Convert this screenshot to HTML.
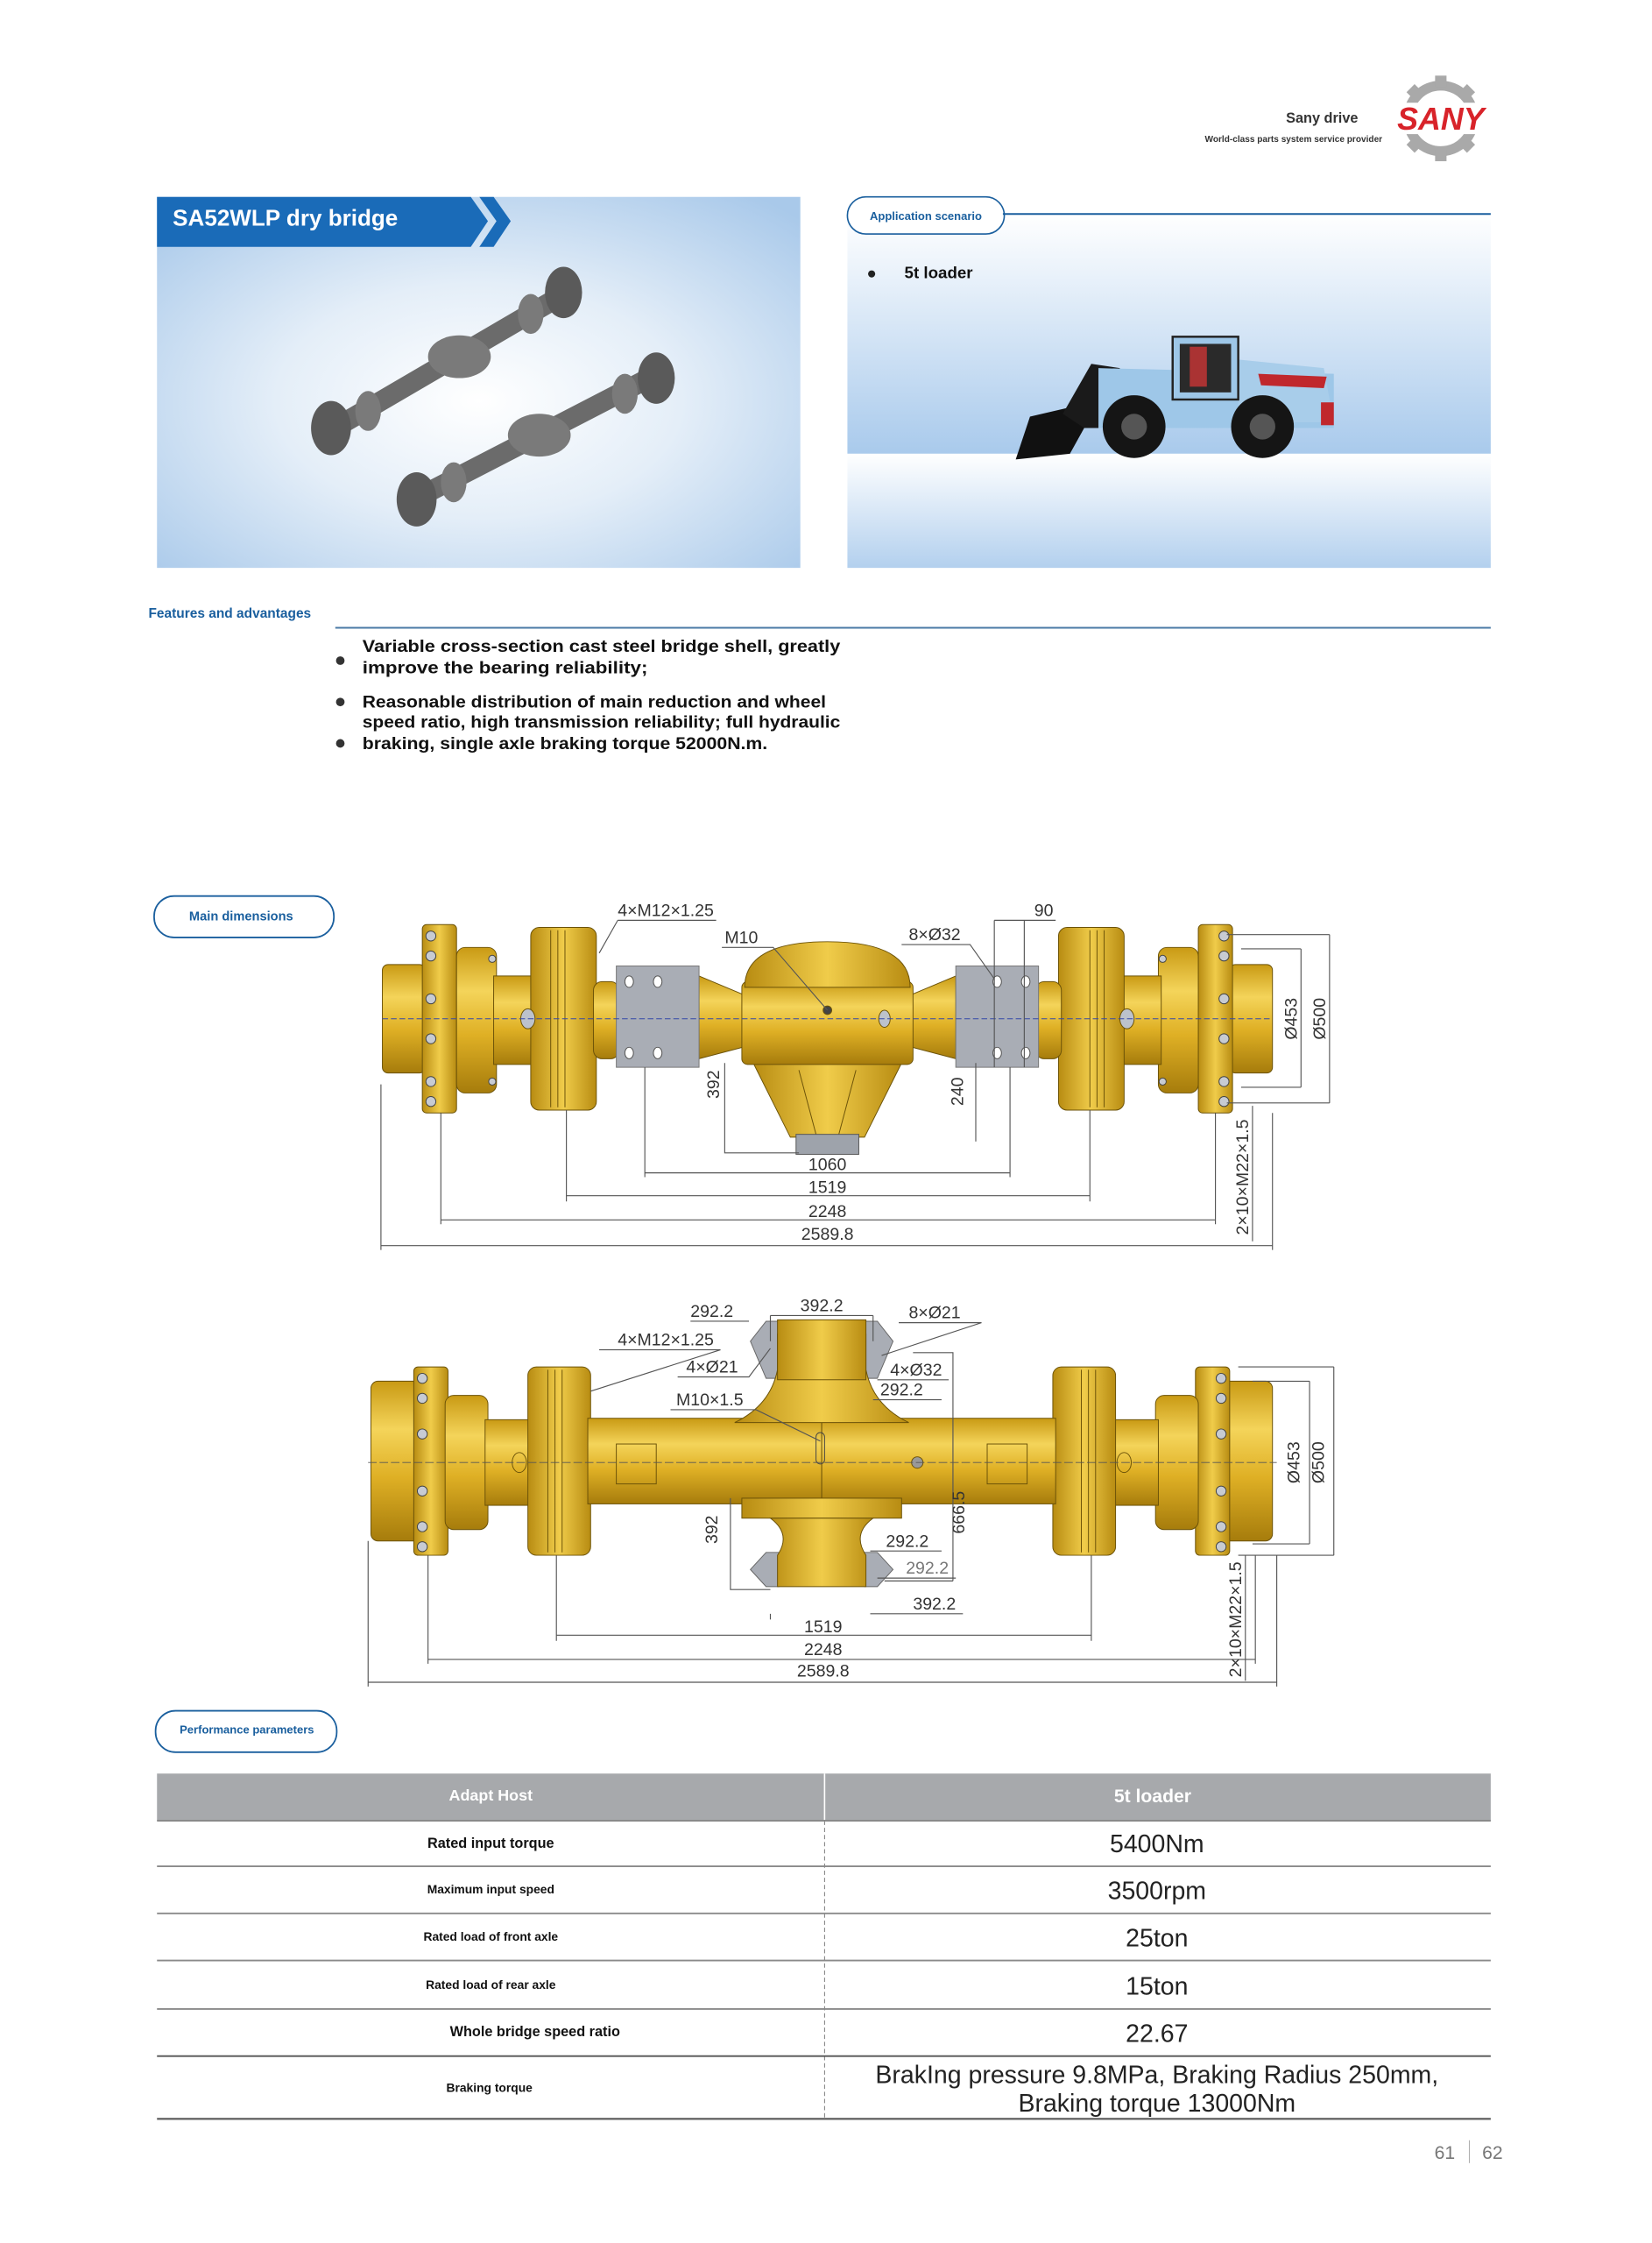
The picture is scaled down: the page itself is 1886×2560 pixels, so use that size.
<!DOCTYPE html>
<html><head><meta charset="utf-8"><style>
html,body{margin:0;padding:0;background:#fff;}
svg{display:block;}
text{font-family:"Liberation Sans",sans-serif;}
.d{font-family:"Liberation Sans",sans-serif;font-size:12px;fill:#333;}
.dl{stroke:#555;stroke-width:0.7;fill:none;}
</style></head><body>
<svg width="1886" height="2560" viewBox="0 0 1158 1572" xmlns="http://www.w3.org/2000/svg">
<defs>
<radialGradient id="lp" cx="0.5" cy="0.55" r="0.7">
<stop offset="0" stop-color="#ffffff"/><stop offset="0.45" stop-color="#e4eef8"/><stop offset="1" stop-color="#a9c9ea"/></radialGradient>
<linearGradient id="rp1" x1="0" y1="0" x2="0" y2="1"><stop offset="0" stop-color="#ffffff"/><stop offset="1" stop-color="#a9caec"/></linearGradient>
<linearGradient id="rp2" x1="0" y1="0" x2="0" y2="1"><stop offset="0" stop-color="#ffffff"/><stop offset="1" stop-color="#b3d0ee"/></linearGradient>
<linearGradient id="y" x1="0" y1="0" x2="0" y2="1"><stop offset="0" stop-color="#c99a14"/><stop offset="0.3" stop-color="#f4d45a"/><stop offset="0.6" stop-color="#dfb025"/><stop offset="1" stop-color="#a67c0c"/></linearGradient>
<linearGradient id="yh" x1="0" y1="0" x2="1" y2="0"><stop offset="0" stop-color="#b88c12"/><stop offset="0.5" stop-color="#f0cc4a"/><stop offset="1" stop-color="#b88c12"/></linearGradient>
</defs>
<rect width="1158" height="1572" fill="#fff"/>

<text x="952" y="86" font-size="10" font-weight="bold" text-anchor="end" fill="#333">Sany drive</text>
<text x="969" y="99.5" font-size="6.2" font-weight="bold" text-anchor="end" fill="#333">World-class parts system service provider</text>
<g transform="translate(1010,83)">
<circle r="23" fill="none" stroke="#a9a9a9" stroke-width="7"/>
<g fill="#a9a9a9">
<rect x="-4" y="-30" width="8" height="8"/><rect x="-4" y="22" width="8" height="8"/>
<rect x="-4" y="-30" width="8" height="8" transform="rotate(45)"/><rect x="-4" y="-30" width="8" height="8" transform="rotate(-45)"/>
<rect x="-4" y="22" width="8" height="8" transform="rotate(45)"/><rect x="-4" y="22" width="8" height="8" transform="rotate(-45)"/>
</g>
<rect x="-36" y="-11" width="72" height="22" fill="#fff"/>
<text x="0" y="8" font-size="22" font-weight="bold" text-anchor="middle" fill="#d8232a" font-style="italic">SANY</text>
</g>

<rect x="110" y="138" width="451" height="260" fill="url(#lp)"/>
<polygon points="110,138 330,138 342,155 330,173 110,173" fill="#1a6bb8"/>
<polygon points="336,138 346,138 358,155 346,173 336,173 348,155" fill="#1a6bb8"/>
<text x="121" y="158" font-size="16" font-weight="bold" fill="#fff">SA52WLP dry bridge</text>
<g stroke-linecap="round">
<line x1="238" y1="298" x2="392" y2="208" stroke="#6b6b6b" stroke-width="14"/>
<line x1="300" y1="345" x2="455" y2="265" stroke="#6b6b6b" stroke-width="14"/>
<g fill="#5a5a5a">
<ellipse cx="232" cy="300" rx="14" ry="19"/><ellipse cx="395" cy="205" rx="13" ry="18"/>
<ellipse cx="292" cy="350" rx="14" ry="19"/><ellipse cx="460" cy="265" rx="13" ry="18"/>
</g>
<g fill="#7a7a7a">
<ellipse cx="322" cy="250" rx="22" ry="15"/><ellipse cx="378" cy="305" rx="22" ry="15"/>
<ellipse cx="258" cy="288" rx="9" ry="14"/><ellipse cx="372" cy="220" rx="9" ry="14"/>
<ellipse cx="318" cy="338" rx="9" ry="14"/><ellipse cx="438" cy="276" rx="9" ry="14"/>
</g>
</g>

<rect x="594" y="150" width="451" height="168" fill="url(#rp1)"/>
<rect x="594" y="318" width="451" height="80" fill="url(#rp2)"/>
<rect x="594" y="138" width="110" height="26" rx="13" fill="#fff" stroke="#1a5f9e" stroke-width="1"/>
<line x1="703" y1="150" x2="1045" y2="150" stroke="#1a5f9e" stroke-width="1.2"/>
<text x="649" y="154" font-size="8" font-weight="bold" text-anchor="middle" fill="#1a5f9e">Application scenario</text>
<circle cx="611" cy="192" r="2.5" fill="#222"/>
<text x="634" y="195" font-size="11.5" font-weight="bold" fill="#111">5t loader</text>
<g>
<polygon points="712,322 722,292 752,285 760,300 750,318" fill="#111"/>
<polygon points="745,290 765,255 785,258 780,300 760,300" fill="#1a1a1a"/>
<polygon points="770,258 935,262 935,300 770,300" fill="#9ec7e8"/>
<polygon points="868,252 928,258 935,296 868,296" fill="#a8cdea"/>
<polygon points="882,262 930,264 928,272 884,270" fill="#c0282d"/>
<rect x="822" y="236" width="46" height="44" fill="#9ec7e8" stroke="#222" stroke-width="1.5"/>
<rect x="827" y="241" width="36" height="34" fill="#2a2a2a"/>
<rect x="834" y="243" width="12" height="28" fill="#a33"/>
<circle cx="795" cy="299" r="22" fill="#151515"/><circle cx="795" cy="299" r="9" fill="#555"/>
<circle cx="885" cy="299" r="22" fill="#151515"/><circle cx="885" cy="299" r="9" fill="#555"/>
<rect x="926" y="282" width="9" height="16" fill="#c0282d"/>
</g>

<text x="104" y="433" font-size="9.5" font-weight="bold" fill="#1a5f9e">Features and advantages</text>
<line x1="235" y1="440" x2="1045" y2="440" stroke="#4a7aa6" stroke-width="1.2"/>
<g font-size="12" font-weight="bold" fill="#111">
<circle cx="238.5" cy="463" r="3" fill="#333"/>
<text x="254" y="457" textLength="335" lengthAdjust="spacingAndGlyphs">Variable cross-section cast steel bridge shell, greatly</text>
<text x="254" y="472" textLength="200" lengthAdjust="spacingAndGlyphs">improve the bearing reliability;</text>
<circle cx="238.5" cy="492" r="3" fill="#333"/>
<text x="254" y="496" textLength="325" lengthAdjust="spacingAndGlyphs">Reasonable distribution of main reduction and wheel</text>
<text x="254" y="510" textLength="335" lengthAdjust="spacingAndGlyphs">speed ratio, high transmission reliability; full hydraulic</text>
<circle cx="238.5" cy="521" r="3" fill="#333"/>
<text x="254" y="525" textLength="284" lengthAdjust="spacingAndGlyphs">braking, single axle braking torque 52000N.m.</text>
</g>

<rect x="108" y="628" width="126" height="29" rx="14" fill="#fff" stroke="#1a5f9e" stroke-width="1.1"/>
<text x="169" y="645" font-size="9" font-weight="bold" text-anchor="middle" fill="#1a5f9e">Main dimensions</text>

<g id="a1half" stroke="#6b5208" stroke-width="0.6">
<rect x="268" y="676" width="30" height="76" rx="4" fill="url(#y)"/>
<rect x="296" y="648" width="24" height="132" rx="3" fill="url(#yh)"/>
<rect x="320" y="664" width="28" height="102" rx="6" fill="url(#y)"/>
<rect x="346" y="684" width="30" height="62" fill="url(#y)"/>
<rect x="372" y="650" width="46" height="128" rx="6" fill="url(#yh)"/>
<line x1="386" y1="652" x2="386" y2="776"/><line x1="391" y1="652" x2="391" y2="776"/><line x1="396" y1="652" x2="396" y2="776"/>
<rect x="416" y="688" width="18" height="54" rx="6" fill="url(#y)"/>
<polygon points="490,684 528,700 528,732 490,742" fill="url(#y)"/>
<rect x="432" y="677" width="58" height="71" fill="#a9adb5" stroke="#777"/>
<g fill="#fff" stroke="#555"><ellipse cx="441" cy="688" rx="3" ry="4"/><ellipse cx="461" cy="688" rx="3" ry="4"/><ellipse cx="441" cy="738" rx="3" ry="4"/><ellipse cx="461" cy="738" rx="3" ry="4"/></g>
<ellipse cx="370" cy="714" rx="5" ry="7" fill="#bcc2cc"/>
<g fill="#c7cbd2" stroke="#444"><circle cx="302" cy="656" r="3.5"/><circle cx="302" cy="670" r="3.5"/><circle cx="302" cy="700" r="3.5"/><circle cx="302" cy="728" r="3.5"/><circle cx="302" cy="758" r="3.5"/><circle cx="302" cy="772" r="3.5"/>
<circle cx="345" cy="672" r="2.5"/><circle cx="345" cy="758" r="2.5"/></g>
</g>
<use href="#a1half" transform="translate(1160,0) scale(-1,1)"/>
<g stroke="#6b5208" stroke-width="0.6">
<polygon points="528,745 632,745 606,797 554,797" fill="url(#yh)"/>
<line x1="560" y1="750" x2="572" y2="795"/><line x1="600" y1="750" x2="588" y2="795"/>
<rect x="558" y="795" width="44" height="14" fill="#9ea3ab" stroke="#555"/>
<rect x="520" y="688" width="120" height="58" rx="4" fill="url(#y)"/>
<path d="M522,692 Q522,660 580,660 Q638,660 638,692 Z" fill="url(#yh)"/>
<circle cx="580" cy="708" r="3" fill="#444"/>
<ellipse cx="620" cy="714" rx="4" ry="6" fill="#bcc2cc"/>
</g>
<line x1="268" y1="714" x2="892" y2="714" stroke="#3348a8" stroke-width="0.6" stroke-dasharray="4,2"/>
<g class="dl">
<path d="M433,645 H502 M433,645 L420,668"/>
<path d="M506,664 H542 L580,708"/>
<path d="M632,662 H680 L697,686"/>
<path d="M697,645 H740 M697,645 V748 M718,645 V748"/>
<path d="M860,655 H932 M860,773 H932 M870,665 H912 M870,762 H912 M912,665 V762 M932,655 V773"/>
<path d="M508,745 V808 H560"/>
<path d="M684,745 V800"/>
<path d="M878,775 V870"/>
<path d="M452,748 V825 M708,748 V825 M452,822 H708"/>
<path d="M397,778 V842 M764,778 V842 M397,838 H764"/>
<path d="M309,780 V858 M852,780 V858 M309,855 H852"/>
<path d="M267,760 V876 M892,780 V876 M267,873 H892"/>
</g>
<g class="d">
<text x="433" y="642">4×M12×1.25</text>
<text x="508" y="661">M10</text>
<text x="637" y="659">8×Ø32</text>
<text x="725" y="642">90</text>
<text x="580" y="820" text-anchor="middle">1060</text>
<text x="580" y="836" text-anchor="middle">1519</text>
<text x="580" y="853" text-anchor="middle">2248</text>
<text x="580" y="869" text-anchor="middle">2589.8</text>
<text transform="translate(504,760) rotate(-90)" text-anchor="middle">392</text>
<text transform="translate(675,765) rotate(-90)" text-anchor="middle">240</text>
<text transform="translate(909,714) rotate(-90)" text-anchor="middle">Ø453</text>
<text transform="translate(929,714) rotate(-90)" text-anchor="middle">Ø500</text>
<text transform="translate(875,825) rotate(-90)" text-anchor="middle">2×10×M22×1.5</text>
</g>

<g id="a2half" stroke="#6b5208" stroke-width="0.6">
<rect x="260" y="968" width="35" height="112" rx="5" fill="url(#y)"/>
<rect x="290" y="958" width="24" height="132" rx="3" fill="url(#yh)"/>
<rect x="312" y="978" width="30" height="94" rx="6" fill="url(#y)"/>
<rect x="340" y="995" width="32" height="60" fill="url(#y)"/>
<rect x="370" y="958" width="44" height="132" rx="6" fill="url(#yh)"/>
<line x1="384" y1="960" x2="384" y2="1088"/><line x1="389" y1="960" x2="389" y2="1088"/><line x1="394" y1="960" x2="394" y2="1088"/>
<rect x="412" y="994" width="164" height="60" fill="url(#y)"/>
<rect x="432" y="1012" width="28" height="28" fill="none"/>
<ellipse cx="364" cy="1025" rx="5" ry="7" fill="none"/>
<g fill="#c7cbd2" stroke="#444"><circle cx="296" cy="966" r="3.5"/><circle cx="296" cy="980" r="3.5"/><circle cx="296" cy="1005" r="3.5"/><circle cx="296" cy="1045" r="3.5"/><circle cx="296" cy="1070" r="3.5"/><circle cx="296" cy="1084" r="3.5"/></g>
<polygon points="526,940 537,926 546,926 546,966 537,966" fill="#a9adb5" stroke="#666"/>
<polygon points="526,1100 537,1088 546,1088 546,1112 537,1112" fill="#a9adb5" stroke="#666"/>
</g>
<use href="#a2half" transform="translate(1152,0) scale(-1,1)"/>
<g stroke="#6b5208" stroke-width="0.6">
<path d="M515,997 Q540,985 545,960 L545,935 L607,935 L607,960 Q612,985 637,997 Z" fill="url(#yh)"/>
<rect x="545" y="925" width="62" height="42" fill="url(#yh)"/>
<rect x="520" y="1050" width="112" height="14" fill="url(#yh)"/>
<path d="M540,1064 Q555,1075 545,1090 L545,1112 L607,1112 L607,1090 Q597,1075 612,1064 Z" fill="url(#yh)"/>
<rect x="572" y="1004" width="6" height="22" rx="3" fill="none" stroke="#444"/>
<circle cx="643" cy="1025" r="4" fill="#999"/>
</g>
<line x1="258" y1="1025" x2="895" y2="1025" stroke="#555" stroke-width="0.5" stroke-dasharray="6,2"/>
<g class="dl">
<path d="M484,926 H525 M540,922 H612 M540,922 V940 M612,922 V940"/>
<path d="M630,927 H688 L618,950"/>
<path d="M420,946 H505 L414,975"/>
<path d="M475,965 H525 L540,945"/>
<path d="M615,967 H665 M612,981 H660"/>
<path d="M470,988 H530 L575,1010"/>
<path d="M640,948 H668 V1108 M620,1108 H668"/>
<path d="M512,1050 V1114 H540"/>
<path d="M610,1087 H660 M615,1106 H670 M610,1131 H675 M540,1131 V1135"/>
<path d="M868,958 H935 M868,1090 H935 M878,968 H918 M878,1082 H918 M918,968 V1082 M935,958 V1090"/>
<path d="M873,1090 V1178"/>
<path d="M390,1090 V1150 M765,1090 V1150 M390,1146 H765"/>
<path d="M300,1090 V1166 M880,1090 V1166 M300,1163 H880"/>
<path d="M258,1080 V1182 M895,1090 V1182 M258,1179 H895"/>
</g>
<g class="d">
<text x="484" y="923">292.2</text>
<text x="561" y="919">392.2</text>
<text x="637" y="924">8×Ø21</text>
<text x="433" y="943">4×M12×1.25</text>
<text x="481" y="962">4×Ø21</text>
<text x="624" y="964">4×Ø32</text>
<text x="617" y="978">292.2</text>
<text x="474" y="985">M10×1.5</text>
<text x="621" y="1084">292.2</text>
<text x="635" y="1103" fill="#777">292.2</text>
<text x="640" y="1128">392.2</text>
<text x="577" y="1144" text-anchor="middle">1519</text>
<text x="577" y="1160" text-anchor="middle">2248</text>
<text x="577" y="1175" text-anchor="middle">2589.8</text>
<text transform="translate(503,1072) rotate(-90)" text-anchor="middle">392</text>
<text transform="translate(676,1060) rotate(-90)" text-anchor="middle">666.5</text>
<text transform="translate(911,1025) rotate(-90)" text-anchor="middle">Ø453</text>
<text transform="translate(928,1025) rotate(-90)" text-anchor="middle">Ø500</text>
<text transform="translate(870,1135) rotate(-90)" text-anchor="middle">2×10×M22×1.5</text>
</g>

<rect x="109" y="1199" width="127" height="29" rx="14" fill="#fff" stroke="#1a5f9e" stroke-width="1.1"/>
<text x="173" y="1215" font-size="8" font-weight="bold" text-anchor="middle" fill="#1a5f9e">Performance parameters</text>

<rect x="110" y="1243" width="935" height="33" fill="#a7a9ac"/>
<line x1="578" y1="1243" x2="578" y2="1276" stroke="#fff" stroke-width="1"/>
<text x="344" y="1262" font-size="11" font-weight="bold" text-anchor="middle" fill="#fff">Adapt Host</text>
<text x="808" y="1263" font-size="13" font-weight="bold" text-anchor="middle" fill="#fff">5t loader</text>
<line x1="578" y1="1276" x2="578" y2="1485" stroke="#777" stroke-width="0.6" stroke-dasharray="3,2"/>
<g stroke="#8a8a8a" stroke-width="1.2">
<line x1="110" y1="1276" x2="1045" y2="1276"/>
<line x1="110" y1="1308" x2="1045" y2="1308"/>
<line x1="110" y1="1341" x2="1045" y2="1341"/>
<line x1="110" y1="1374" x2="1045" y2="1374"/>
<line x1="110" y1="1408" x2="1045" y2="1408"/>
<line x1="110" y1="1441" x2="1045" y2="1441" stroke="#555"/>
<line x1="110" y1="1485" x2="1045" y2="1485" stroke="#666" stroke-width="1.5"/>
</g>
<g font-weight="bold" fill="#111" text-anchor="middle">
<text x="344" y="1295" font-size="10">Rated input torque</text>
<text x="344" y="1327" font-size="8.5">Maximum input speed</text>
<text x="344" y="1360" font-size="8.5">Rated load of front axle</text>
<text x="344" y="1394" font-size="8.5">Rated load of rear axle</text>
<text x="375" y="1427" font-size="10">Whole bridge speed ratio</text>
<text x="343" y="1466" font-size="8.5">Braking torque</text>
</g>
<g fill="#222" text-anchor="middle" font-size="17.5">
<text x="811" y="1298">5400Nm</text>
<text x="811" y="1331">3500rpm</text>
<text x="811" y="1364">25ton</text>
<text x="811" y="1398">15ton</text>
<text x="811" y="1431">22.67</text>
<text x="811" y="1460">BrakIng pressure 9.8MPa,  Braking Radius 250mm,</text>
<text x="811" y="1480">Braking torque 13000Nm</text>
</g>
<text x="1020" y="1513" font-size="13" fill="#777" text-anchor="end">61</text>
<line x1="1030" y1="1500" x2="1030" y2="1516" stroke="#aaa" stroke-width="0.6"/>
<text x="1039" y="1513" font-size="13" fill="#777">62</text>
</svg>
</body></html>
